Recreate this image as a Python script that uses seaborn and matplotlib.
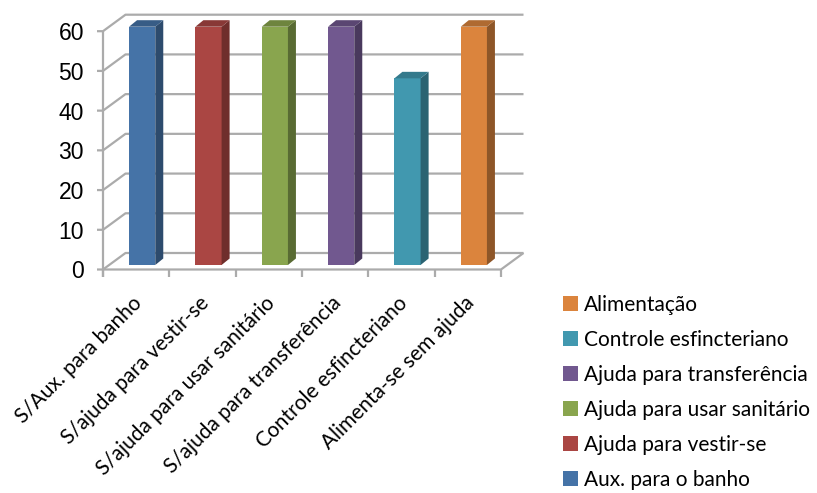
import matplotlib
matplotlib.use("Agg")
import matplotlib.pyplot as plt
import matplotlib.transforms as mtrans
from matplotlib.colors import to_rgb
from matplotlib.patches import Polygon
import pandas as pd
import seaborn as sns

categories = ["S/Aux. para banho", "S/ajuda para vestir-se", "S/ajuda para usar sanitário",
              "S/ajuda para transferência", "Controle esfincteriano", "Alimenta-se sem ajuda"]
series = ["Aux. para o banho", "Ajuda para vestir-se", "Ajuda para usar sanitário",
          "Ajuda para transferência", "Controle esfincteriano", "Alimentação"]
values = [60, 60, 60, 60, 47, 60]
colors = ["#4573A7", "#AA4643", "#89A54E", "#71588F", "#4198AF", "#DB843D"]
y_ticks = [0, 10, 20, 30, 40, 50, 60]

sns.set_style("white")
plt.rcParams["font.family"] = ["Lato", "DejaVu Sans"]

W, H = 817, 493
fig = plt.figure(figsize=(W / 100, H / 100), dpi=100)
ax = fig.add_axes([109 / W, 1 - 265 / H, 398 / W, 238.3 / H])

df = pd.DataFrame({"cat": categories, "val": values, "serie": series})
sns.barplot(data=df, x="cat", y="val", hue="serie", palette=colors, dodge=False,
            width=0.395, saturation=1, ax=ax, zorder=3, linewidth=0)
ax.set_xlim(-0.5, 5.5)
ax.set_ylim(0, 60)
ax.set_xlabel("")
ax.set_ylabel("")
sns.despine(ax=ax, left=True, bottom=True)

# Oblique projection: depth offsets expressed in axis units
ux, uy = 398 / 6, 238.3 / 60
bar_dx, bar_dy = 8 / ux, 6.5 / uy
front_dx, front_dy = -6 / ux, -4.5 / uy
back_dx, back_dy = 16.5 / ux, 12 / uy
left, right = -0.5, 5.5
grid_kw = dict(color="#ababab", lw=1.6, zorder=1, clip_on=False, solid_capstyle="butt")
tick_x = 6 / ux
tick_y = 7.5 / uy

# Side wall and back wall gridlines
for t in y_ticks:
    ax.plot([left + front_dx - tick_x, left + front_dx, left + back_dx, right + back_dx],
            [t + front_dy, t + front_dy, t + back_dy, t + back_dy], **grid_kw)
ax.plot([left + front_dx] * 2, [front_dy - tick_y, 60 + front_dy], **grid_kw)
# Floor edges and category ticks
ax.plot([left + front_dx, right + front_dx, right + back_dx],
        [front_dy, front_dy, back_dy], **grid_kw)
for i in range(7):
    x = left + front_dx + i
    ax.plot([x, x], [front_dy, front_dy - tick_y], **grid_kw)


def shade(color, f):
    return tuple(c * f for c in to_rgb(color))


# Extrude each bar with a top face and a right face
for patch, color in zip([p for p in ax.patches if p.get_height() > 0], colors):
    x0, x1 = patch.get_x(), patch.get_x() + patch.get_width()
    h = patch.get_height()
    patch.set_edgecolor("none")
    ax.add_patch(Polygon([(x1, 0), (x1 + bar_dx, bar_dy), (x1 + bar_dx, h + bar_dy), (x1, h)],
                         closed=True, fc=shade(color, 0.65), ec="none", zorder=3, clip_on=False))
    ax.add_patch(Polygon([(x0, h), (x0 + bar_dx, h + bar_dy), (x1 + bar_dx, h + bar_dy), (x1, h)],
                         closed=True, fc=shade(color, 0.8), ec="none", zorder=3, clip_on=False))
    patch.set_clip_on(False)

# Tick labels
ax.tick_params(length=0)
ax.set_yticks(y_ticks)
ax.set_yticklabels([str(t) for t in y_ticks], family="Liberation Sans", fontsize=16.5, color="#000000")
ax.set_xticks(range(len(categories)))
ax.set_xticklabels(categories, rotation=45, ha="right", va="top", rotation_mode="anchor",
                   fontsize=15, color="#000000")
ax.tick_params(axis="y", pad=18)
ax.tick_params(axis="x", pad=20)
y_shift = mtrans.ScaledTranslation(0, -4.5 / 100, fig.dpi_scale_trans)
for lab in ax.get_yticklabels():
    lab.set_transform(lab.get_transform() + y_shift)
x_shift = mtrans.ScaledTranslation(-10 / 100, 0, fig.dpi_scale_trans)
for lab in ax.get_xticklabels():
    lab.set_transform(lab.get_transform() + x_shift)

# Legend, last series first
handles, labels = ax.get_legend_handles_labels()
ax.legend(handles[::-1], labels[::-1], loc="upper left", bbox_to_anchor=(563 / W, 1 - 295 / H),
          bbox_transform=fig.transFigure, frameon=False, fontsize=15, labelspacing=0.72,
          handlelength=0.72, handleheight=0.72, handletextpad=0.29, borderpad=0, borderaxespad=0,
          labelcolor="#000000")

fig.savefig("out.png", dpi=100)
